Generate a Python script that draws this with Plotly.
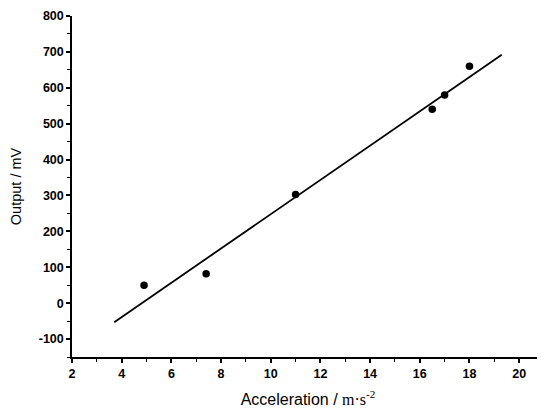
import plotly.graph_objects as go

# measured data points
accel = [4.9, 7.4, 11.0, 16.5, 17.0, 18.0]
output_mv = [50, 82, 303, 540, 580, 660]

# fitted line end points
fit_x = [3.7, 19.3]
fit_y = [-53, 692]

x_ticks = [2, 4, 6, 8, 10, 12, 14, 16, 18, 20]
y_ticks = [-100, 0, 100, 200, 300, 400, 500, 600, 700, 800]

fig = go.Figure()
fig.add_trace(go.Scatter(x=fit_x, y=fit_y, mode="lines",
                         line=dict(color="black", width=1.8), showlegend=False))
fig.add_trace(go.Scatter(x=accel, y=output_mv, mode="markers",
                         marker=dict(color="black", size=7.5), showlegend=False))

tickfont = dict(family="Liberation Sans, Arial", size=12.5, color="black")

# page body has an 8px margin, so the figure is sized to fit the 545x408 window
fig.update_layout(
    width=537, height=400,
    margin=dict(l=64, r=1, t=8, b=51),
    paper_bgcolor="white", plot_bgcolor="white",
    xaxis=dict(
        range=[2, 21], tickvals=x_ticks, ticktext=["<b>%d</b>" % v for v in x_ticks],
        showgrid=False, zeroline=False, showline=True, linecolor="black", linewidth=1.5,
        ticks="outside", ticklen=4, tickwidth=1.5, tickcolor="black",
        minor=dict(dtick=1, ticks="outside", ticklen=3, tickwidth=1.2, tickcolor="black"),
        tickfont=tickfont, automargin=False,
        title=dict(text="Acceleration / <span style='font-family:Liberation Serif'>m·s<sup>-2</sup></span>",
                   font=dict(family="Liberation Sans, Arial", size=16, color="black")),
    ),
    yaxis=dict(
        range=[-150, 800], tickvals=y_ticks, ticktext=["<b>%d</b>" % v for v in y_ticks],
        showgrid=False, zeroline=False, showline=True, linecolor="black", linewidth=1.5,
        ticks="outside", ticklen=4, tickwidth=1.5, tickcolor="black",
        minor=dict(dtick=50, ticks="outside", ticklen=3, tickwidth=1.2, tickcolor="black"),
        tickfont=tickfont, automargin=False,
        title=dict(text="Output / mV",
                   font=dict(family="Liberation Sans, Arial", size=14.5, color="black")),
    ),
)

fig.write_html("out.html")
